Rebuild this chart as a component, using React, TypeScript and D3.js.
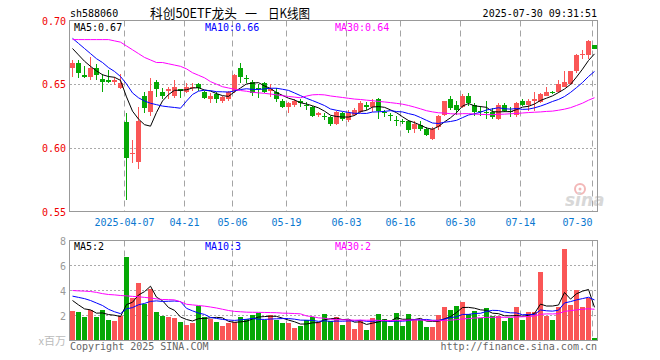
import React from "react";
import * as d3 from "d3";

// ---- data ----
const opens = [
  0.663, 0.667, 0.657, 0.656, 0.663, 0.654, 0.653, 0.652, 0.647, 0.620,
  0.595, 0.589, 0.641, 0.628, 0.652, 0.644, 0.645, 0.641, 0.646, 0.644,
  0.647, 0.650, 0.644, 0.638, 0.642, 0.637, 0.638, 0.645, 0.663, 0.655,
  0.652, 0.647, 0.651, 0.645, 0.644, 0.637, 0.632, 0.634, 0.637, 0.634,
  0.632, 0.626, 0.625, 0.624, 0.619, 0.627, 0.622, 0.626, 0.628, 0.634,
  0.632, 0.638, 0.628, 0.626, 0.622, 0.621, 0.621, 0.615, 0.618, 0.615,
  0.607, 0.616, 0.626, 0.638, 0.634, 0.632, 0.641, 0.634, 0.629, 0.628,
  0.628, 0.623, 0.634, 0.629, 0.626, 0.637, 0.634, 0.637, 0.636, 0.641,
  0.644, 0.644, 0.648, 0.650, 0.660, 0.673, 0.673, 0.681,
];
const highs = [
  0.669, 0.669, 0.664, 0.671, 0.666, 0.658, 0.661, 0.656, 0.658, 0.627,
  0.606, 0.632, 0.644, 0.655, 0.653, 0.647, 0.648, 0.653, 0.646, 0.651,
  0.651, 0.651, 0.645, 0.643, 0.644, 0.641, 0.645, 0.658, 0.667, 0.657,
  0.653, 0.650, 0.652, 0.650, 0.647, 0.638, 0.636, 0.638, 0.638, 0.636,
  0.633, 0.628, 0.627, 0.625, 0.629, 0.628, 0.630, 0.631, 0.637, 0.636,
  0.638, 0.639, 0.630, 0.627, 0.625, 0.623, 0.622, 0.621, 0.621, 0.616,
  0.616, 0.626, 0.637, 0.641, 0.637, 0.642, 0.643, 0.635, 0.633, 0.637,
  0.631, 0.635, 0.635, 0.632, 0.636, 0.638, 0.638, 0.644, 0.643, 0.648,
  0.645, 0.653, 0.660, 0.660, 0.674, 0.677, 0.685, 0.681,
];
const lows = [
  0.656, 0.655, 0.655, 0.653, 0.653, 0.644, 0.651, 0.649, 0.646, 0.559,
  0.588, 0.583, 0.627, 0.625, 0.640, 0.638, 0.638, 0.639, 0.639, 0.643,
  0.645, 0.645, 0.638, 0.635, 0.635, 0.635, 0.637, 0.643, 0.651, 0.651,
  0.641, 0.639, 0.643, 0.640, 0.636, 0.631, 0.627, 0.632, 0.632, 0.630,
  0.624, 0.624, 0.622, 0.617, 0.618, 0.621, 0.620, 0.625, 0.627, 0.630,
  0.628, 0.623, 0.624, 0.621, 0.617, 0.619, 0.612, 0.612, 0.613, 0.609,
  0.606, 0.614, 0.625, 0.630, 0.626, 0.631, 0.633, 0.625, 0.625, 0.623,
  0.623, 0.622, 0.628, 0.624, 0.624, 0.633, 0.629, 0.629, 0.635, 0.641,
  0.642, 0.643, 0.648, 0.649, 0.659, 0.670, 0.670, 0.678,
];
const closes = [
  0.667, 0.659, 0.656, 0.663, 0.657, 0.652, 0.652, 0.653, 0.651, 0.592,
  0.596, 0.621, 0.631, 0.645, 0.646, 0.641, 0.646, 0.648, 0.645, 0.648,
  0.648, 0.647, 0.639, 0.641, 0.638, 0.640, 0.644, 0.657, 0.656, 0.654,
  0.643, 0.646, 0.644, 0.646, 0.638, 0.632, 0.635, 0.637, 0.635, 0.633,
  0.625, 0.627, 0.624, 0.619, 0.628, 0.623, 0.627, 0.630, 0.635, 0.632,
  0.636, 0.629, 0.627, 0.625, 0.621, 0.620, 0.614, 0.619, 0.615, 0.610,
  0.615, 0.625, 0.637, 0.631, 0.630, 0.641, 0.635, 0.628, 0.628, 0.627,
  0.624, 0.634, 0.629, 0.628, 0.635, 0.634, 0.637, 0.638, 0.642, 0.644,
  0.643, 0.650, 0.652, 0.660, 0.673, 0.674, 0.684, 0.678,
];
const volumes = [
  2.4, 2.32, 1.87, 2.48, 1.87, 2.48, 1.68, 1.6, 1.95, 6.67,
  3.4, 4.59, 2.93, 4.13, 2.27, 2.0, 1.87, 1.79, 1.47, 1.28,
  1.39, 2.8, 1.87, 1.73, 1.47, 1.2, 1.39, 1.47, 1.92, 1.73,
  2.08, 2.19, 1.65, 2.08, 1.65, 1.39, 1.39, 0.99, 1.15, 1.68,
  1.87, 1.47, 2.13, 1.55, 1.92, 1.28, 1.65, 0.93, 1.68, 0.88,
  1.81, 2.13, 1.76, 1.2, 2.21, 1.2, 2.13, 1.65, 1.65, 1.12,
  1.12, 2.08, 2.72, 2.48, 2.8, 3.12, 2.13, 2.4, 1.81, 2.61,
  1.97, 1.95, 1.55, 1.79, 2.72, 1.68, 2.32, 2.32, 5.52, 1.95,
  1.68, 2.72, 7.33, 2.88, 4.08, 2.72, 3.41, 0.19,
];

// moving-average values before enough in-window history exists
const ma5Head = [0.678, 0.673, 0.668, 0.664];
const ma10Head = [0.686, 0.682, 0.678, 0.674, 0.670, 0.667, 0.663, 0.660, 0.656];
const ma30Head = [
  0.685, 0.685, 0.685, 0.685, 0.685, 0.685, 0.685, 0.684, 0.683, 0.680,
  0.677, 0.674, 0.671, 0.669, 0.667, 0.667, 0.666, 0.665, 0.664, 0.662,
  0.659, 0.657, 0.655, 0.652, 0.650, 0.648, 0.647, 0.646, 0.645,
];
const volMa5Head = [3.2, 2.85, 2.53, 2.45];
const volMa10Head = [3.55, 3.45, 3.35, 3.2, 3.0, 2.8, 2.5, 2.3, 2.15];
const volMa30Head = [
  4.0, 3.97, 3.95, 3.92, 3.85, 3.75, 3.68, 3.65, 3.6, 3.57,
  3.53, 3.5, 3.45, 3.4, 3.33, 3.28, 3.27, 3.25, 3.1, 2.9,
  2.85, 2.8, 2.75, 2.68, 2.6, 2.5, 2.4, 2.33, 2.3,
];

const tickLabels = ["2025-04-07", "04-21", "05-06", "05-19", "06-03", "06-16", "06-30", "07-14", "07-30"];
const tickIndex = [9, 19, 27, 36, 46, 55, 65, 75, 87];
const priceTicks = [0.7, 0.65, 0.6, 0.55];
const priceGrid = [0.65, 0.6];
const volTicks = [8, 6, 4, 2];
const volGrid = [6, 4, 2];
const priceMaLegend = ["0.67", "0.66", "0.64"];
const volMaLegend = ["2", "3", "2"];
const titleParts = ["科创50ETF龙头", "一", "日K线图"];

const W = 660;
const H = 360;
const L = 70;
const R = 598;
const PT = 20.5;
const PB = 211.5;
const VT = 240.5;
const VB = 340.5;

const RED = "#fa5656";
const GREEN = "#05a805";
const MA_COLORS = ["#000000", "#0000ff", "#ff00ff"];
const MONO = "'DejaVu Sans Mono', 'Liberation Mono', monospace";
const CJK = "'Noto Sans CJK SC', sans-serif";

function movingAvg(values: number[], n: number, head: number[]): number[] {
  return values.map((_, i) => (i < n - 1 ? head[i] : (d3.mean(values.slice(i - n + 1, i + 1)) as number)));
}

export default function App() {
  const idx = d3.range(closes.length);
  const x = d3.scaleBand<number>().domain(idx).range([L, R]).padding(0);
  const yp = d3.scaleLinear().domain([0.55, 0.7]).range([PB, PT]);
  const yv = d3.scaleLinear().domain([0, 8]).range([VB, VT]);
  const cx = (i: number) => (x(i) as number) + 2.5;

  const priceMAs = [movingAvg(closes, 5, ma5Head), movingAvg(closes, 10, ma10Head), movingAvg(closes, 30, ma30Head)];
  const volMAs = [movingAvg(volumes, 5, volMa5Head), movingAvg(volumes, 10, volMa10Head), movingAvg(volumes, 30, volMa30Head)];

  const linePrice = d3.line<number>().x((_, i) => cx(i)).y((d) => yp(d));
  const lineVol = d3.line<number>().x((_, i) => cx(i)).y((d) => yv(d));

  const legendX = [74, 205, 335];
  const maNames = ["MA5", "MA10", "MA30"];
  const titleX = [150, 245, 268];
  const titleLen = [87, 12, 42];

  return (
    <svg width={W} height={H} style={{ position: "fixed", left: 0, top: 0, background: "#fff" }} fontFamily={MONO}>
      <rect x={0} y={0} width={W} height={H} fill="#fff" />
      {/* header */}
      <text x={70} y={17} fontSize={10} fill="#000">sh588060</text>
      {titleParts.map((t, k) => (
        <text key={"t" + k} x={titleX[k]} y={18} fontSize={13} fill="#000" fontFamily={CJK} textLength={titleLen[k]} lengthAdjust="spacingAndGlyphs">{t}</text>
      ))}
      <text x={597} y={17} fontSize={10} fill="#000" textAnchor="end">2025-07-30 09:31:51</text>

      {/* price panel grid */}
      {priceGrid.map((v) => (
        <line key={"pg" + v} x1={L} x2={R} y1={Math.round(yp(v)) + 0.5} y2={Math.round(yp(v)) + 0.5} stroke="#aaa" strokeDasharray="2,2" />
      ))}
      {tickIndex.map((ti) => (
        <line key={"pv" + ti} x1={(x(ti) as number) + 0.5} x2={(x(ti) as number) + 0.5} y1={PT} y2={PB} stroke="#a4a4a4" strokeDasharray="6,4" />
      ))}
      {/* volume panel grid */}
      {volGrid.map((v) => (
        <line key={"vg" + v} x1={L} x2={R} y1={yv(v)} y2={yv(v)} stroke="#aaa" strokeDasharray="2,2" />
      ))}
      {tickIndex.map((ti) => (
        <line key={"vv" + ti} x1={(x(ti) as number) + 0.5} x2={(x(ti) as number) + 0.5} y1={VT} y2={VB} stroke="#a4a4a4" strokeDasharray="6,4" />
      ))}

      {/* watermark */}
      <g opacity={0.9}>
        <circle cx={580} cy={189} r={5} fill="none" stroke="#f2b0b0" strokeWidth={2} />
        <circle cx={580} cy={189} r={1.5} fill="#f2b0b0" />
        <text x={565} y={206} fontSize={17} fontStyle="italic" fontWeight="bold" fill="#d4d4d4" fontFamily="'DejaVu Sans', sans-serif">sina</text>
      </g>

      {/* candles */}
      {idx.map((i) => {
        const o = opens[i], c = closes[i];
        const col = c >= o ? RED : GREEN;
        const x0 = x(i) as number;
        const yTop = Math.round(yp(Math.max(o, c)));
        const yBot = Math.round(yp(Math.min(o, c)));
        return (
          <g key={"c" + i} shapeRendering="crispEdges">
            <rect x={x0 + 2} y={Math.round(yp(highs[i]))} width={1} height={Math.max(1, Math.round(yp(lows[i])) - Math.round(yp(highs[i])))} fill={col} />
            <rect x={x0} y={yTop} width={5} height={Math.max(1, yBot - yTop)} fill={col} />
          </g>
        );
      })}

      {/* price MA lines */}
      {priceMAs.map((m, k) => (
        <path key={"pm" + k} d={linePrice(m) as string} fill="none" stroke={MA_COLORS[k]} strokeWidth={1} />
      ))}

      {/* volume bars */}
      {idx.map((i) => {
        const col = closes[i] >= opens[i] ? RED : GREEN;
        const top = Math.round(yv(volumes[i]));
        return <rect key={"v" + i} x={x(i) as number} y={top} width={5} height={Math.round(yv(0)) - top} fill={col} shapeRendering="crispEdges" />;
      })}
      {volMAs.map((m, k) => (
        <path key={"vm" + k} d={lineVol(m) as string} fill="none" stroke={MA_COLORS[k]} strokeWidth={1} />
      ))}

      {/* borders */}
      <rect x={L - 0.5} y={PT} width={R - L} height={PB - PT} fill="none" stroke="#999" />
      <rect x={L - 0.5} y={VT} width={R - L} height={VB - VT} fill="none" stroke="#999" />

      {/* y labels */}
      {priceTicks.map((v) => (
        <text key={"pt" + v} x={66} y={yp(v) + 4} fontSize={10} fill="#f00000" textAnchor="end">{v.toFixed(2)}</text>
      ))}
      {volTicks.map((v) => (
        <text key={"vt" + v} x={66} y={yv(v) + 4} fontSize={10} fill="#999" textAnchor="end">{v}</text>
      ))}
      <text x={66} y={345} fontSize={11} fill="#bbb" textAnchor="end" fontFamily={CJK}>x百万</text>

      {/* x labels */}
      {tickIndex.map((ti, k) => {
        const px = (x(ti) as number) + 0.5;
        const w = tickLabels[k].length * 6;
        const anchorEnd = px + w / 2 > R;
        return (
          <text key={"xl" + ti} x={px} y={226} fontSize={10} fill="#0a78d0" textAnchor={anchorEnd ? "end" : "middle"}>
            {tickLabels[k]}
          </text>
        );
      })}

      {/* legends */}
      {maNames.map((n, k) => (
        <text key={"pl" + k} x={legendX[k]} y={31} fontSize={10} fill={MA_COLORS[k]}>{n + ":" + priceMaLegend[k]}</text>
      ))}
      {maNames.map((n, k) => (
        <text key={"vl" + k} x={legendX[k]} y={250} fontSize={10} fill={MA_COLORS[k]}>{n + ":" + volMaLegend[k]}</text>
      ))}

      {/* footer */}
      <text x={70} y={350} fontSize={10} fill="#666">Copyright 2025 SINA.COM</text>
      <text x={597} y={350} fontSize={10} fill="#666" textAnchor="end">http://finance.sina.com.cn</text>
    </svg>
  );
}
